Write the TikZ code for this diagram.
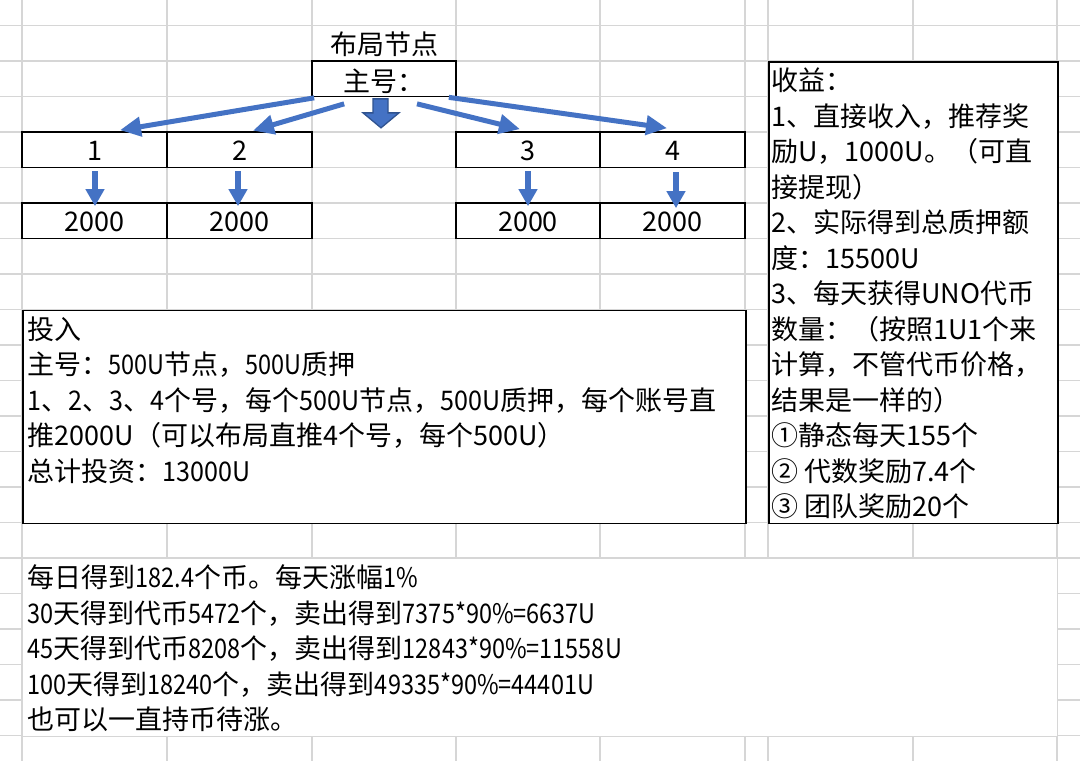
\documentclass[tikz,border=0pt]{standalone}
\usepackage{fontspec}
\setmainfont{Noto Sans CJK SC}
\newfontfamily\narrowlat[FakeStretch=0.87]{Noto Sans CJK SC}
\newfontfamily\semilat[FakeStretch=0.93]{Noto Sans CJK SC}
\usetikzlibrary{arrows.meta,calc}
\definecolor{gridgray}{HTML}{D6D6D6}
\definecolor{arrowblue}{HTML}{4472C4}
\definecolor{arrowedge}{HTML}{2F528F}
\begin{document}
\begin{tikzpicture}[x=1pt,y=-1pt,
  gridline/.style={draw=gridgray,line width=1.3pt},
  cellbox/.style={draw=black,line width=1.7pt,minimum width=145pt,minimum height=35.5pt,inner sep=0pt,
    font=\fontsize{27}{32}\selectfont,text height=22pt,text depth=1pt},
  mergebox/.style={draw=black,line width=1.7pt,fill=white,anchor=north west,inner sep=0pt},
  txt/.style={anchor=base west,inner sep=0pt,font=\fontsize{27}{32}\selectfont},
  link/.style={draw=arrowblue,line width=5pt,-{Triangle[length=21pt,width=19pt]}},
  drop/.style={draw=arrowblue,line width=5.5pt,-{Triangle[length=17pt,width=18pt]}},
]
\useasboundingbox (0,0) rectangle (1080,761);
\fill[white] (0,0) rectangle (1080,761);
% spreadsheet grid
\foreach \x in {22,167,312,456,600,745,768,913,1057} \draw[gridline] (\x,0) -- (\x,761);
\foreach \k in {0,...,20} \draw[gridline] (0,25.5+35.5*\k) -- (1080,25.5+35.5*\k);

% merged areas
\node[mergebox,minimum width=723pt,minimum height=213pt] (invest) at (22,309.5) {};
\node[mergebox,minimum width=289pt,minimum height=461.5pt] (gain) at (768,61) {};
\node[mergebox,draw=gridgray,line width=1.3pt,minimum width=1035pt,minimum height=177.5pt] (summary) at (22,558) {};

% title and boxes
\node[txt,anchor=base] (title) at (384,54) {布局节点};
\node[cellbox,minimum width=144pt,text height=25.5pt] (main) at (384,78.75) {主号：};
\node[cellbox] (b1) at (94.5,149.75) {1};
\node[cellbox] (b2) at (239.5,149.75) {2};
\node[cellbox,minimum width=144pt] (b3) at (528,149.75) {3};
\node[cellbox] (b4) at (672.5,149.75) {4};
\node[cellbox] (c1) at (94.5,220.75) {2000};
\node[cellbox] (c2) at (239.5,220.75) {2000};
\node[cellbox,minimum width=144pt] (c3) at (528,220.75) {2000};
\node[cellbox] (c4) at (672.5,220.75) {2000};

% arrows from main
\draw[link] ($(main.south west)+(3,0.5)$) -- ($(b1.north)+(25.5,-1)$);
\draw[link] ($(main.south west)+(33,6.5)$) -- ($(b2.north)+(13.5,-0.5)$);
\draw[link] ($(main.south)+(33,6.5)$) -- ($(b3.north)+(-8,-2)$);
\draw[link] ($(main.south east)+(-8,0)$) -- ($(b4.north)+(-5.5,-3)$);

% block arrow
\coordinate (m) at (main.south);
\draw[fill=arrowblue,draw=arrowedge,line width=1.3pt,line join=miter]
  ($(m)+(-11,1.5)$) -- ($(m)+(4,1.5)$) -- ($(m)+(4,15.5)$) -- ($(m)+(15,15.5)$)
  -- ($(m)+(-3,30.5)$) -- ($(m)+(-21,15.5)$) -- ($(m)+(-11,15.5)$) -- cycle;

% down arrows
\draw[drop] ($(b1.south)+(0.5,3)$) -- ($(c1.north)+(0.5,4)$);
\draw[drop] ($(b2.south)+(-1.5,3)$) -- ($(c2.north)+(-1.5,4)$);
\draw[drop] ($(b3.south)+(0,3)$) -- ($(c3.north)+(0,4)$);
\draw[drop] ($(b4.south)+(3.5,4)$) -- ($(c4.north)+(3.5,6)$);

% invest text
\node[txt] (i1) at (27.5,339.25) {投入};
\node[txt] (i2) at (27.5,374.75) {主号：{\narrowlat 500U}节点，{\narrowlat 500U}质押};
\node[txt] (i3) at (27.5,410.25) {{\semilat 1}、{\semilat 2}、{\semilat 3}、{\semilat 4}个号，每个{\semilat 500U}节点，{\semilat 500U}质押，每个账号直};
\node[txt] (i4) at (27.5,445.75) {推2000U（可以布局直推4个号，每个500U）};
\node[txt] (i5) at (27.5,481.25) {总计投资：{\semilat 13000U}};

% gain text
\node[txt] (g1) at (771,90.75) {收益：};
\node[txt] (g2) at (771,126.25) {1、直接收入，推荐奖};
\node[txt] (g3) at (771,161.75) {励U，1000U。（可直};
\node[txt] (g4) at (771,197.25) {接提现）};
\node[txt] (g5) at (771,232.75) {2、实际得到总质押额};
\node[txt] (g6) at (771,268.25) {度：15500U};
\node[txt] (g7) at (771,303.75) {3、每天获得UNO代币};
\node[txt] (g8) at (771,339.25) {数量：（按照1U1个来};
\node[txt] (g9) at (771,374.75) {计算，不管代币价格，};
\node[txt] (g10) at (771,410.25) {结果是一样的）};
\node[txt] (g11) at (771,445.75) {①静态每天155个};
\node[txt] (g12) at (771,481.25) {② 代数奖励7.4个};
\node[txt] (g13) at (771,516.75) {③ 团队奖励20个};

% summary text
\node[txt] (s1) at (27.5,587.75) {每日得到{\narrowlat 182.4}个币。每天涨幅{\narrowlat 1\%}};
\node[txt] (s2) at (27.5,623.25) {{\narrowlat 30}天得到代币{\narrowlat 5472}个，卖出得到{\narrowlat 7375*90\%=6637U}};
\node[txt] (s3) at (27.5,658.75) {{\narrowlat 45}天得到代币{\narrowlat 8208}个，卖出得到{\narrowlat 12843*90\%=11558U}};
\node[txt] (s4) at (27.5,694.25) {{\narrowlat 100}天得到{\narrowlat 18240}个，卖出得到{\narrowlat 49335*90\%=44401U}};
\node[txt] (s5) at (27.5,729.75) {也可以一直持币待涨。};
\end{tikzpicture}
\end{document}
